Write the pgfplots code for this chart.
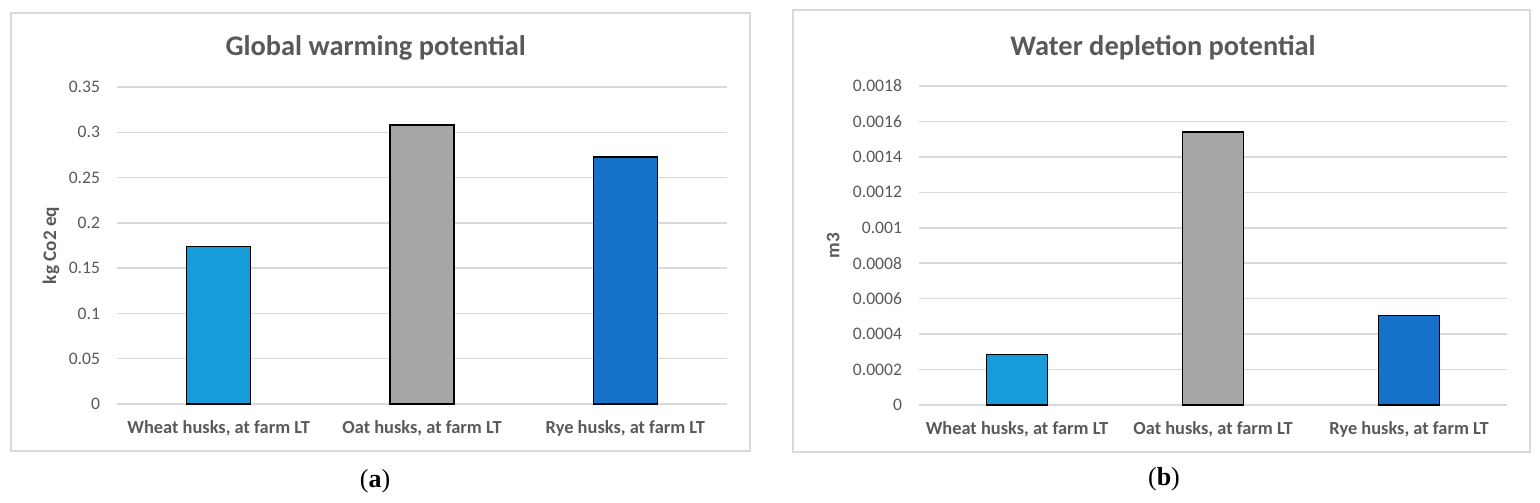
\documentclass[border=0pt]{standalone}
\usepackage{pgfplots}
\pgfplotsset{compat=1.18}
\usepackage{fontspec}
\setmainfont{Carlito}
\newfontfamily\seriffont{Liberation Serif}
\definecolor{txt}{HTML}{595959}
\definecolor{gridc}{HTML}{D9D9D9}
\definecolor{wheat}{HTML}{179CD9}
\definecolor{oat}{HTML}{A6A6A6}
\definecolor{rye}{HTML}{1572C8}
\pgfplotsset{
  panel/.style={
    scale only axis,
    anchor=south west,
    xmin=-0.5, xmax=2.5,
    xtick={0,1,2},
    xticklabels={{Wheat husks, at farm LT},{Oat husks, at farm LT},{Rye husks, at farm LT}},
    axis line style={draw=none},
    major tick length=0pt,
    ymajorgrids,
    grid style={draw=gridc, line width=0.75bp},
    ticklabel style={text=txt},
    xticklabel style={font=\fontsize{9.2bp}{11bp}\selectfont\bfseries, yshift=-5bp},
    yticklabel style={font=\fontsize{8.8bp}{10bp}\selectfont, xshift=-5bp},
    ylabel style={font=\fontsize{9.6bp}{11bp}\selectfont\bfseries, text=txt, anchor=center},
    every axis title/.style={at={(0.5,1)}, anchor=base, font=\fontsize{14.2bp}{17bp}\selectfont\bfseries, text=txt},
    ybar, bar shift=0pt,
    every axis plot/.append style={draw=black, line width=0.8bp},
    clip=false,
  }
}
\begin{document}
\begin{tikzpicture}[x=1bp,y=1bp]
\path (0,0) rectangle (770,251);
% frames
\draw[gridc, line width=0.8bp] (5.5,25.5) rectangle (375,244.5);
\draw[gridc, line width=0.8bp] (396.5,25) rectangle (765,246);
\begin{axis}[panel,
  at={(58.5bp,49bp)}, width=305bp, height=158.5bp,
  bar width=32bp,
  ymin=0, ymax=0.35,
  ytick={0,0.05,0.1,0.15,0.2,0.25,0.3,0.35},
  yticklabels={0,0.05,0.1,0.15,0.2,0.25,0.3,0.35},
  title={Global warming potential},
  title style={at={(axis description cs:0.424,1.098)}},
  ylabel={kg Co2 eq},
  ylabel style={at={(axis description cs:-0.108,0.5)}},
]
\addplot[fill=wheat] coordinates {(0,0.174)};
\addplot[fill=oat] coordinates {(1,0.308)};
\addplot[fill=rye] coordinates {(2,0.273)};
\end{axis}
\begin{axis}[panel,
  at={(459.5bp,48.5bp)}, width=294bp, height=159.5bp,
  bar width=30.5bp,
  ymin=0, ymax=0.0018,
  scaled y ticks=false,
  ytick={0,0.0002,0.0004,0.0006,0.0008,0.001,0.0012,0.0014,0.0016,0.0018},
  yticklabels={0,0.0002,0.0004,0.0006,0.0008,0.001,0.0012,0.0014,0.0016,0.0018},
  title={Water depletion potential},
  title style={at={(axis description cs:0.415,1.097)}},
  ylabel={m3},
  ylabel style={at={(axis description cs:-0.146,0.5)}},
]
\addplot[fill=wheat] coordinates {(0,0.000286)};
\addplot[fill=oat] coordinates {(1,0.00154)};
\addplot[fill=rye] coordinates {(2,0.000504)};
\end{axis}
\node[font=\seriffont\fontsize{13bp}{15bp}\selectfont] at (187.5,10.5) {(\textbf{a})};
\node[font=\seriffont\fontsize{13bp}{15bp}\selectfont] at (582,11.5) {(\textbf{b})};
\end{tikzpicture}
\end{document}
